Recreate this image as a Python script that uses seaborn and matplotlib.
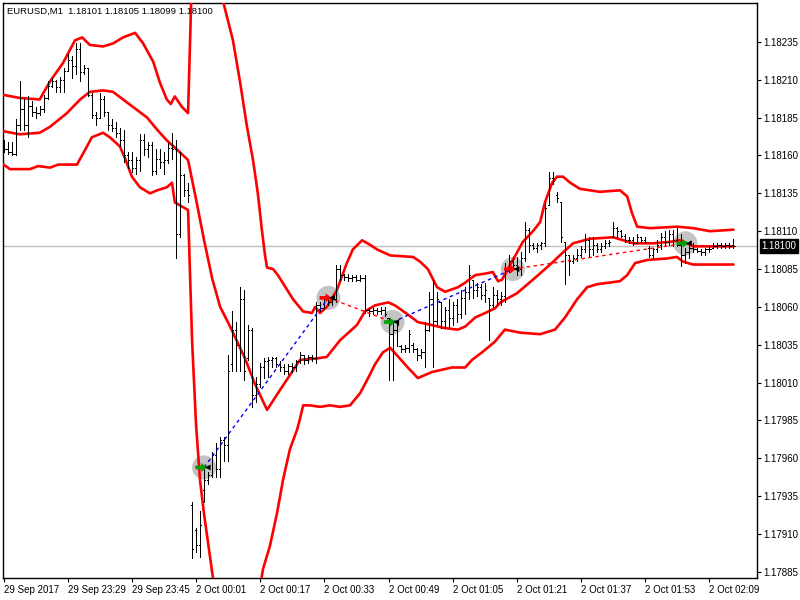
import matplotlib
matplotlib.use('Agg')
import matplotlib.pyplot as plt
from matplotlib.path import Path
import numpy as np
import pandas as pd
import seaborn as sns

sns.set_style('white')
plt.rcParams['font.family'] = ['Liberation Sans', 'DejaVu Sans']

title = 'EURUSD,M1  1.18101 1.18105 1.18099 1.18100'
last_price = 1.18100

# one-minute bars, prices in points (1 point = 0.00001)
opens = [118167, 118164, 118162, 118161, 118180, 118191, 118180, 118193, 118189, 118188,
         118191, 118198, 118206, 118209, 118205, 118210, 118216, 118223, 118219, 118230,
         118215, 118218, 118200, 118187, 118185, 118197, 118189, 118180, 118178, 118175,
         118170, 118160, 118157, 118152, 118157, 118170, 118164, 118167, 118150, 118158,
         118156, 118157, 118165, 118164, 118108, 118147, 118137, 117929, 117913, 117903,
         117939, 117946, 117949, 117962, 117953, 117972, 117969, 118022, 118045, 118035,
         118065, 118026, 118045, 118002, 118009, 118020, 118024, 118025, 118026, 118022,
         118020, 118018, 118021, 118020, 118024, 118028, 118025, 118027, 118026, 118061,
         118059, 118065, 118063, 118065, 118085, 118081, 118080, 118079, 118080, 118078,
         118079, 118058, 118057, 118058, 118057, 118058, 118053, 118042, 118045, 118034,
         118032, 118033, 118035, 118032, 118028, 118030, 118045, 118065, 118051, 118063,
         118051, 118058, 118053, 118061, 118055, 118066, 118070, 118078, 118071, 118073,
         118068, 118066, 118061, 118068, 118065, 118067, 118086, 118090, 118088, 118085,
         118092, 118111, 118101, 118099, 118101, 118102, 118127, 118145, 118134, 118129,
         118103, 118094, 118090, 118092, 118094, 118098, 118104, 118098, 118101, 118098,
         118100, 118102, 118106, 118112, 118110, 118107, 118104, 118104, 118102, 118106,
         118104, 118099, 118094, 118098, 118101, 118106, 118103, 118108, 118104, 118101,
         118094, 118096, 118099, 118098, 118097, 118096, 118098, 118099, 118100, 118101,
         118100, 118101, 118101]
highs = [118170, 118169, 118169, 118184, 118209, 118197, 118199, 118196, 118192, 118193,
         118200, 118209, 118211, 118210, 118212, 118218, 118227, 118226, 118234, 118234,
         118220, 118218, 118201, 118189, 118201, 118199, 118189, 118184, 118182, 118178,
         118177, 118162, 118162, 118159, 118174, 118174, 118169, 118169, 118164, 118164,
         118162, 118168, 118175, 118170, 118162, 118148, 118142, 117931, 117914, 117925,
         117953, 117951, 117964, 117970, 117974, 117974, 118028, 118057, 118050, 118073,
         118071, 118048, 118046, 118014, 118023, 118026, 118027, 118027, 118027, 118024,
         118022, 118022, 118023, 118025, 118030, 118028, 118028, 118028, 118063, 118063,
         118067, 118067, 118067, 118088, 118088, 118082, 118082, 118081, 118081, 118081,
         118081, 118059, 118059, 118059, 118060, 118060, 118053, 118050, 118051, 118035,
         118035, 118045, 118036, 118033, 118032, 118050, 118070, 118078, 118070, 118063,
         118060, 118065, 118063, 118065, 118071, 118073, 118088, 118078, 118076, 118075,
         118076, 118066, 118073, 118071, 118070, 118089, 118094, 118092, 118093, 118096,
         118116, 118112, 118102, 118102, 118103, 118129, 118149, 118149, 118136, 118129,
         118103, 118094, 118094, 118098, 118100, 118108, 118106, 118106, 118102, 118102,
         118104, 118104, 118116, 118113, 118111, 118108, 118106, 118106, 118108, 118106,
         118106, 118100, 118099, 118104, 118109, 118110, 118111, 118111, 118112, 118108,
         118099, 118103, 118102, 118099, 118098, 118099, 118100, 118102, 118102, 118102,
         118102, 118102, 118105]
lows = [118162, 118161, 118160, 118160, 118177, 118177, 118172, 118186, 118185, 118187,
        118189, 118197, 118205, 118202, 118202, 118202, 118216, 118211, 118214, 118209,
        118214, 118199, 118185, 118180, 118185, 118186, 118177, 118176, 118172, 118166,
        118156, 118152, 118149, 118148, 118150, 118160, 118159, 118147, 118148, 118152,
        118148, 118155, 118158, 118092, 118106, 118133, 118129, 117894, 117898, 117895,
        117931, 117943, 117948, 117948, 117948, 117958, 117958, 118018, 118018, 118018,
        118012, 118025, 117994, 117997, 118007, 118013, 118014, 118020, 118020, 118018,
        118016, 118016, 118017, 118018, 118023, 118022, 118023, 118024, 118023, 118057,
        118059, 118061, 118061, 118063, 118078, 118078, 118077, 118077, 118077, 118077,
        118056, 118054, 118055, 118055, 118055, 118054, 118012, 118012, 118034, 118030,
        118030, 118030, 118030, 118025, 118026, 118020, 118044, 118020, 118048, 118046,
        118046, 118047, 118048, 118050, 118053, 118055, 118065, 118066, 118067, 118065,
        118063, 118038, 118060, 118061, 118061, 118063, 118083, 118086, 118081, 118081,
        118090, 118096, 118098, 118096, 118098, 118100, 118127, 118141, 118129, 118103,
        118075, 118081, 118089, 118090, 118093, 118096, 118093, 118094, 118096, 118096,
        118099, 118100, 118106, 118106, 118106, 118103, 118102, 118101, 118102, 118103,
        118102, 118093, 118092, 118096, 118098, 118100, 118101, 118100, 118100, 118087,
        118089, 118092, 118096, 118096, 118094, 118094, 118096, 118099, 118099, 118099,
        118099, 118099, 118099]
closes = [118164, 118162, 118161, 118180, 118191, 118180, 118193, 118189, 118188, 118191,
          118198, 118206, 118209, 118205, 118210, 118216, 118223, 118219, 118230, 118215,
          118218, 118200, 118187, 118185, 118197, 118189, 118180, 118178, 118175, 118170,
          118160, 118157, 118152, 118157, 118170, 118164, 118167, 118150, 118158, 118156,
          118157, 118165, 118164, 118108, 118147, 118137, 118134, 117900, 117903, 117916,
          117946, 117949, 117962, 117953, 117972, 117969, 118018, 118045, 118035, 118065,
          118018, 118045, 118002, 118009, 118020, 118024, 118025, 118026, 118022, 118020,
          118018, 118021, 118020, 118024, 118028, 118025, 118027, 118026, 118061, 118059,
          118065, 118063, 118065, 118085, 118081, 118080, 118079, 118080, 118078, 118079,
          118058, 118057, 118058, 118057, 118058, 118055, 118042, 118045, 118048, 118032,
          118033, 118042, 118032, 118028, 118030, 118045, 118065, 118051, 118065, 118051,
          118058, 118053, 118061, 118055, 118066, 118070, 118081, 118071, 118073, 118068,
          118071, 118061, 118068, 118065, 118067, 118086, 118090, 118088, 118085, 118092,
          118111, 118101, 118099, 118101, 118102, 118125, 118145, 118143, 118132, 118106,
          118094, 118090, 118092, 118094, 118098, 118104, 118098, 118101, 118098, 118100,
          118102, 118103, 118112, 118110, 118107, 118104, 118104, 118102, 118106, 118104,
          118103, 118094, 118098, 118101, 118106, 118103, 118108, 118104, 118101, 118094,
          118096, 118099, 118098, 118097, 118096, 118098, 118098, 118100, 118101, 118100,
          118101, 118100, 118100]

# Bollinger bands (bar position, points)
upper_bars = [0, 4, 9, 11.6, 14.8, 17.8, 19.6, 21.5, 24.8, 27.3, 29.8, 32.8, 34.8, 37.3, 39, 40.7,
              41.7, 42.7, 44.5, 46, 47, 50, 54, 55, 57.2, 59, 60.7, 62.2, 63.4, 64.4, 65.2, 65.7,
              67.2, 68.4, 72.2, 74.7, 76.9, 77.7, 78.9, 80.6, 83.1, 85.6, 87.1, 89.4, 91.4, 93.1,
              96.4, 102.1, 103.8, 105.8, 108.1, 110.1, 113.3, 115.1, 117.6, 120.1, 122, 123.3,
              124.3, 127, 129.5, 132, 133.8, 135, 136.8, 138, 139.5, 141.3, 143.7, 148.7, 153.7,
              155.5, 156.7, 158, 161.2, 168, 172, 176.2, 182]
upper_pts = [118200, 118198, 118197, 118209, 118221, 118236, 118238, 118233, 118232, 118234,
             118238, 118241, 118234, 118222, 118208, 118197, 118194, 118199, 118192, 118188,
             118283, 118316, 118269, 118259, 118236, 118208, 118179, 118157, 118135, 118111,
             118094, 118086, 118085, 118081, 118065, 118057, 118056, 118060, 118056, 118060,
             118071, 118089, 118098, 118104, 118101, 118098, 118094, 118093, 118090, 118085,
             118073, 118070, 118073, 118076, 118081, 118082, 118083, 118077, 118078, 118091,
             118103, 118110, 118116, 118129, 118142, 118146, 118146, 118142, 118138, 118136,
             118137, 118133, 118122, 118113, 118112, 118113, 118112, 118110, 118111]
mid_bars = [0, 4, 9, 11.6, 15.8, 19.1, 21.5, 24.8, 27.3, 29.8, 33.3, 35.8, 38.3, 40.7, 43.2, 46,
            47, 48, 50, 52, 54, 56.5, 60.2, 62.7, 65.7, 68.9, 73.9, 78.2, 80.6, 83.9, 88.1, 90.1,
            92.6, 95.9, 97.6, 100.8, 103.3, 106.8, 110.1, 113.3, 115.1, 117.6, 120.1, 122.5,
            123.9, 128, 132, 136.3, 139.5, 142, 146.2, 152, 154.5, 157, 162, 166.2, 168.7, 172,
            176.9, 182]
mid_pts = [118176, 118174, 118175, 118179, 118188, 118197, 118202, 118203, 118202, 118197,
           118190, 118185, 118177, 118170, 118164, 118157, 118144, 118131, 118104, 118079,
           118060, 118047, 118026, 118009, 117992, 118005, 118025, 118026, 118027, 118038,
           118048, 118057, 118061, 118063, 118061, 118055, 118050, 118048, 118046, 118045,
           118047, 118053, 118056, 118059, 118063, 118069, 118078, 118088, 118096, 118102,
           118105, 118106, 118104, 118102, 118102, 118103, 118104, 118100, 118100, 118100]
lower_bars = [0, 1.6, 6.6, 8.6, 11.6, 13.6, 18.3, 20.8, 22, 24.8, 26.5, 29, 30.3, 32, 34, 36.5,
              38.3, 40.7, 42, 42.7, 46, 47, 48, 49, 50, 51, 52, 53, 56, 60, 63, 64.7, 66.4, 68.2,
              69.7, 71.4, 73.2, 73.9, 74.7, 76.4, 78.9, 81.4, 83.9, 86.4, 88.9, 90.9, 92.6, 94.6,
              96.4, 98.1, 100.8, 103.3, 106.8, 111.8, 115.1, 116.8, 119.3, 122.5, 125, 128.8,
              133.8, 137.5, 140, 143, 145.5, 148, 153.7, 155.5, 157.5, 160.5, 165.4, 167.9,
              169.4, 171.9, 176.9, 182]
lower_pts = [118154, 118151, 118151, 118153, 118152, 118154, 118154, 118166, 118172, 118175,
             118172, 118166, 118158, 118146, 118139, 118135, 118137, 118139, 118142, 118129,
             118124, 118038, 117982, 117945, 117923, 117904, 117885, 117867, 117834, 117814,
             117860, 117887, 117902, 117924, 117946, 117966, 117979, 117986, 117995, 117995,
             117994, 117995, 117994, 117995, 118003, 118013, 118022, 118030, 118033, 118028,
             118020, 118013, 118017, 118020, 118020, 118025, 118030, 118037, 118045, 118043,
             118042, 118045, 118053, 118065, 118073, 118075, 118077, 118081, 118089, 118091,
             118092, 118093, 118090, 118088, 118088, 118088]

# trades (bar, price, side)
trade_bars = [50, 81, 97, 127, 170]
trade_prices = [1.17954, 1.18066, 1.18050, 1.18085, 1.18102]
trade_sides = ['buy', 'sell', 'buy', 'sell', 'buy']

price_ticks = [1.17885, 1.17910, 1.17935, 1.17960, 1.17985, 1.18010, 1.18035, 1.18060,
               1.18085, 1.18110, 1.18135, 1.18160, 1.18185, 1.18210, 1.18235]
time_tick_bars = [0, 16, 32, 48, 64, 80, 96, 112, 128, 144, 160, 176]
time_labels = ['29 Sep 2017', '29 Sep 23:29', '29 Sep 23:45', '2 Oct 00:01', '2 Oct 00:17',
               '2 Oct 00:33', '2 Oct 00:49', '2 Oct 01:05', '2 Oct 01:21', '2 Oct 01:37',
               '2 Oct 01:53', '2 Oct 02:09']

df = pd.DataFrame({'bar': np.arange(len(opens)),
                   'open': np.array(opens) / 1e5, 'high': np.array(highs) / 1e5,
                   'low': np.array(lows) / 1e5, 'close': np.array(closes) / 1e5})
trades = pd.DataFrame({'bar': trade_bars, 'price': trade_prices, 'side': trade_sides})

fig = plt.figure(figsize=(8, 6), dpi=100)
ax = fig.add_axes([0.003125, 0.0372, 0.94275, 0.9578])
ax.set_xlim(-0.27, 187.8)
ax.set_ylim(1.178812, 1.182607)

ax.axhline(last_price, color='#c0c0c0', lw=1, zorder=1)

# trade markers background
sns.scatterplot(data=trades, x='bar', y='price', s=300, color='#c4c4c4', edgecolor='none',
                ax=ax, zorder=2, legend=False)

# bars
lw_bar = 0.55
ax.vlines(df['bar'], df['low'], df['high'], color='black', lw=lw_bar, zorder=4, antialiased=False)
ax.hlines(df['open'], df['bar'] - 0.3, df['bar'], color='black', lw=lw_bar, zorder=4,
          antialiased=False)
ax.hlines(df['close'], df['bar'], df['bar'] + 0.3, color='black', lw=lw_bar, zorder=4,
          antialiased=False)

# bands
for bx, by in [(upper_bars, upper_pts), (mid_bars, mid_pts), (lower_bars, lower_pts)]:
    sns.lineplot(x=bx, y=np.array(by) / 1e5, color='#ff0000', lw=1.9, ax=ax, zorder=3)

# trade connection lines
for k in range(len(trade_bars) - 1):
    col = '#0000ff' if trade_sides[k] == 'buy' else '#ff0000'
    ax.plot(trade_bars[k:k + 2], trade_prices[k:k + 2], color=col, lw=1,
            ls=(0, (2.5, 2.5)), zorder=5)

# trade arrows
arrow = Path([(-1, -0.3), (0, -0.3), (0, -0.75), (1, 0), (0, 0.75), (0, 0.3), (-1, 0.3),
              (-1, -0.3)], closed=True)
for side, col in [('buy', '#00a000'), ('sell', '#ff0000')]:
    sub = trades[trades['side'] == side]
    ax.scatter(sub['bar'] - 0.7, sub['price'], marker=arrow, s=75, color=col,
               edgecolors='none', zorder=6)
ax.scatter(trades['bar'] + 0.9, trades['price'], marker='<', s=18, color='black',
           edgecolors='none', zorder=6)

ax.text(0.006, 0.994, title, transform=ax.transAxes, ha='left', va='top', fontsize=6.8,
        color='black')

ax.yaxis.tick_right()
ax.set_yticks(price_ticks)
ax.set_yticklabels([f'{v:.5f}' for v in price_ticks])
ax.set_xticks(time_tick_bars)
ax.set_xticklabels(time_labels)
plt.setp(ax.get_xticklabels(), ha='left')
ax.tick_params(axis='both', direction='out', length=3, width=0.8, labelsize=7,
               colors='black', pad=2)
ax.tick_params(axis='y', left=False, right=True)
ax.tick_params(axis='x', bottom=True)
for s in ax.spines.values():
    s.set_color('black')
    s.set_linewidth(1)
ax.set_xlabel('')
ax.set_ylabel('')

ax.annotate(f'{last_price:.5f}', xy=(1.0, last_price), xycoords=('axes fraction', 'data'),
            xytext=(3.5, 0), textcoords='offset points', ha='left', va='center',
            fontsize=7, color='white',
            bbox=dict(boxstyle='square,pad=0.2', fc='black', ec='black'), annotation_clip=False)

fig.savefig('out.png', dpi=100)
